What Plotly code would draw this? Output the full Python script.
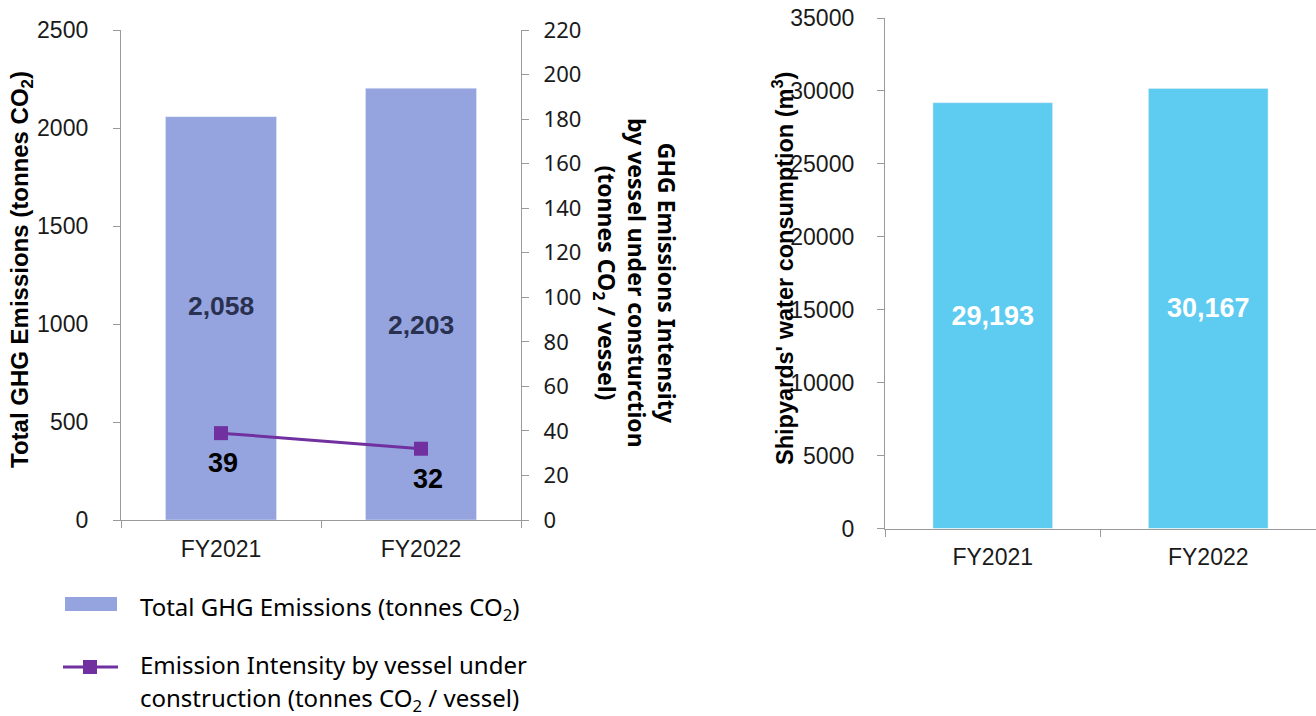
import plotly.graph_objects as go

# ---- data ----
years = ["FY2021", "FY2022"]
ghg_total = [2058, 2203]                 # tonnes CO2
ghg_intensity = [39, 32]                 # tonnes CO2 / vessel
water_use = [29193, 30167]               # m3

W, H = 1316, 716
def px(x):
    return x / W
def py(y):
    return 1 - y / H

ARIAL = "Liberation Sans, Arial, sans-serif"
CALIBRI = "Noto Sans, Open Sans, sans-serif"
AXIS_GREY = "#9a9a9a"
TXT = "#1a1a1a"

fig = go.Figure()

# left panel: emissions bars + intensity line on secondary axis
fig.add_trace(go.Bar(
    x=years, y=ghg_total, marker_color="#95a4df", width=0.555,
    xaxis="x", yaxis="y", showlegend=False, hoverinfo="x+y",
))
fig.add_trace(go.Scatter(
    x=years, y=ghg_intensity, mode="lines+markers",
    line=dict(color="#7030a0", width=3),
    marker=dict(symbol="square", size=14, color="#7030a0"),
    xaxis="x", yaxis="y2", showlegend=False,
))

# right panel: water consumption
fig.add_trace(go.Bar(
    x=years, y=water_use, marker_color="#5ecbf1", width=0.555,
    text=[f"{v:,}" for v in water_use], textposition="inside",
    insidetextanchor="middle",
    textfont=dict(family=ARIAL, size=27, color="white", weight="bold"),
    xaxis="x3", yaxis="y3", showlegend=False,
))

common_x = dict(type="category", showline=True, linecolor=AXIS_GREY, linewidth=1.3,
                ticks="outside", tickson="boundaries", ticklen=7, tickcolor=AXIS_GREY,
                showgrid=False, zeroline=False, ticklabelstandoff=8, automargin=False,
                tickfont=dict(family=ARIAL, size=23, color=TXT))
common_y = dict(showline=True, linecolor=AXIS_GREY, linewidth=1.3, ticks="outside",
                ticklen=7, tickcolor=AXIS_GREY, showgrid=False, zeroline=False,
                automargin=False, tickformat="d",
                tickfont=dict(family=ARIAL, size=23, color=TXT))

fig.update_layout(
    width=W, height=H, autosize=False,
    margin=dict(l=0, r=0, t=0, b=0, autoexpand=False),
    paper_bgcolor="white", plot_bgcolor="white",
    bargap=0.445,
    xaxis=dict(domain=[px(121), px(521)], anchor="y", **common_x),
    yaxis=dict(domain=[py(520), py(30)], anchor="x", range=[0, 2500], dtick=500,
               ticklabelstandoff=20, **common_y),
    yaxis2=dict(overlaying="y", side="right", anchor="x", range=[0, 220], dtick=20,
                showline=True, linecolor=AXIS_GREY, linewidth=1.3, ticks="outside",
                ticklen=7, tickcolor=AXIS_GREY, showgrid=False, zeroline=False,
                ticklabelstandoff=10, automargin=False,
                tickfont=dict(family=CALIBRI, size=22, color=TXT)),
    xaxis3=dict(domain=[px(885), 1.0], anchor="y3", **common_x),
    yaxis3=dict(domain=[py(528.5), py(18)], anchor="x3", range=[0, 35000], dtick=5000,
                ticklabelstandoff=18, **common_y),
)

ann = []
# value labels on emissions bars
label_shift = [12, -21]
for yr, v, s in zip(years, ghg_total, label_shift):
    ann.append(dict(x=yr, y=v / 2, xref="x", yref="y", yshift=s, text=f"{v:,}",
                    showarrow=False, font=dict(family=ARIAL, size=26.5, color="#2a3150",
                                               weight="bold")))
# value labels below intensity markers
for i, (yr, v) in enumerate(zip(years, ghg_intensity)):
    ann.append(dict(x=yr, y=v, xref="x", yref="y2", yshift=-30, xshift=2 + 5 * i,
                    text=str(v), showarrow=False,
                    font=dict(family=ARIAL, size=27, color="black", weight="bold")))

# axis titles
ann.append(dict(x=px(21), y=py(270), xref="paper", yref="paper", textangle=-90,
                text="Total GHG Emissions (tonnes CO<sub>2</sub>)", showarrow=False,
                xanchor="center", yanchor="middle",
                font=dict(family=ARIAL, size=24, color="black", weight="bold")))
ann.append(dict(x=px(635), y=py(283), xref="paper", yref="paper", textangle=90,
                text="GHG Emissions Intensity<br>by vessel under consturction<br>"
                     "(tonnes CO<sub>2</sub> / vessel)",
                showarrow=False, xanchor="center", yanchor="middle", align="center",
                font=dict(family=CALIBRI, size=23, color="black", weight="bold")))
ann.append(dict(x=px(783), y=py(268), xref="paper", yref="paper", textangle=-90,
                text="Shipyards' water consumption (m<sup>3</sup>)", showarrow=False,
                xanchor="center", yanchor="middle",
                font=dict(family=ARIAL, size=23.5, color="black", weight="bold")))

# legend
leg_font = dict(family=CALIBRI, size=24, color="black")
ann.append(dict(x=px(138), y=py(608), xref="paper", yref="paper", xanchor="left",
                yanchor="middle", showarrow=False, font=leg_font,
                text="Total GHG Emissions (tonnes CO<sub>2</sub>)"))
ann.append(dict(x=px(138), y=py(664), xref="paper", yref="paper", xanchor="left",
                yanchor="middle", showarrow=False, font=leg_font,
                text="Emission Intensity by vessel under"))
ann.append(dict(x=px(138), y=py(699), xref="paper", yref="paper", xanchor="left",
                yanchor="middle", showarrow=False, font=leg_font,
                text="construction (tonnes CO<sub>2</sub> / vessel)"))

shapes = [
    dict(type="rect", xref="paper", yref="paper", x0=px(65), x1=px(117),
         y0=py(611), y1=py(597), fillcolor="#95a4df", line_width=0),
    dict(type="line", xref="paper", yref="paper", x0=px(63), x1=px(118),
         y0=py(667), y1=py(667), line=dict(color="#7030a0", width=3)),
    dict(type="rect", xref="paper", yref="paper", x0=px(83), x1=px(97),
         y0=py(674), y1=py(660), fillcolor="#7030a0", line_width=0),
]

fig.update_layout(annotations=ann, shapes=shapes)
fig.write_html("out.html")
